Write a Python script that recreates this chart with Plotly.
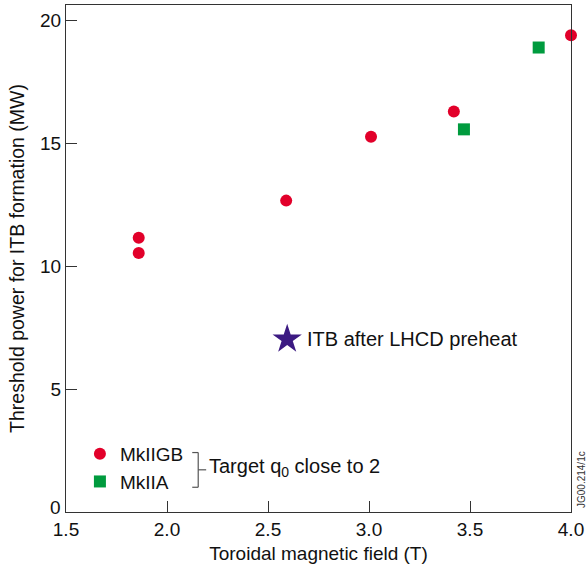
import plotly.graph_objects as go

# Data
mk2gb_x = [1.86, 1.86, 2.59, 3.01, 3.42, 4.0]
mk2gb_y = [11.16, 10.54, 12.67, 15.27, 16.30, 19.40]
mk2a_x = [3.47, 3.84]
mk2a_y = [15.57, 18.90]
lhcd_x = [2.595]
lhcd_y = [7.03]
xticks = [1.5, 2.0, 2.5, 3.0, 3.5, 4.0]
xtick_labels = ["1.5", "2.0", "2.5", "3.0", "3.5", "4.0"]
yticks = [0, 5, 10, 15, 20]
ytick_labels = ["0", "5", "10", "15", "20"]

FONT = "Liberation Sans, Arial, Helvetica, sans-serif"
RED = "#E2002A"
GREEN = "#009B3E"
PURPLE = "#3C1A82"

fig = go.Figure()
fig.add_trace(go.Scatter(
    x=mk2gb_x, y=mk2gb_y, mode="markers", name="MkIIGB",
    marker=dict(symbol="circle", size=12, color=RED),
    cliponaxis=False))
fig.add_trace(go.Scatter(
    x=mk2a_x, y=mk2a_y, mode="markers", name="MkIIA",
    marker=dict(symbol="square", size=12, color=GREEN),
    cliponaxis=False))
fig.add_trace(go.Scatter(
    x=lhcd_x, y=lhcd_y, mode="markers", name="ITB after LHCD preheat",
    marker=dict(symbol="star", size=22, color=PURPLE),
    showlegend=False, cliponaxis=False))

fig.add_annotation(x=lhcd_x[0], y=lhcd_y[0], xref="x", yref="y",
                   text="ITB after LHCD preheat", showarrow=False,
                   xanchor="left", yanchor="middle", xshift=18,
                   font=dict(family=FONT, size=20, color="#111"))

# bracket for the legend group
L, R_, T, B = 66, 574, 4, 512.3
W = R_ - L
H = B - T
def px(x):
    return (x - L) / W
def py(y):
    return (B - y) / H

bx0, bx1 = 193, 199
line = dict(color="#555", width=1.2)
fig.add_shape(type="line", xref="paper", yref="paper", x0=px(bx0), x1=px(bx1), y0=py(452.7), y1=py(452.7), line=line)
fig.add_shape(type="line", xref="paper", yref="paper", x0=px(bx1), x1=px(bx1), y0=py(452.7), y1=py(487.5), line=line)
fig.add_shape(type="line", xref="paper", yref="paper", x0=px(bx0), x1=px(bx1), y0=py(487.5), y1=py(487.5), line=line)
fig.add_shape(type="line", xref="paper", yref="paper", x0=px(bx1), x1=px(207), y0=py(470), y1=py(470), line=line)
fig.add_annotation(x=px(208), y=py(468), xref="paper", yref="paper",
                   text="Target q<sub>0</sub> close to 2", showarrow=False,
                   xanchor="left", yanchor="middle",
                   font=dict(family=FONT, size=20, color="#111"))

fig.add_annotation(x=1.0, y=0.0, xref="paper", yref="paper",
                   text="JG00.214/1c", showarrow=False, textangle=-90,
                   xanchor="left", yanchor="bottom", xshift=3, yshift=2,
                   font=dict(family=FONT, size=10, color="#333"))

# the "0" y-tick label sits slightly raised in the reference (clear of "1.5")
y_ticktext = [""] + ytick_labels[1:]
fig.add_annotation(x=0, y=yticks[0], xref="paper", yref="y",
                   text=ytick_labels[0], showarrow=False,
                   xanchor="right", yanchor="middle", xshift=-3, yshift=5,
                   font=dict(family=FONT, size=19, color="#111"))

axis_common = dict(showline=True, mirror=True, linecolor="#333", linewidth=1.2,
                   ticks="inside", ticklen=11, tickcolor="#333", tickwidth=1,
                   showgrid=False, zeroline=False,
                   tickfont=dict(family=FONT, size=19, color="#111"))

fig.update_layout(
    width=588, height=571,
    margin=dict(l=66, r=14, t=4, b=59),
    paper_bgcolor="white", plot_bgcolor="white",
    font=dict(family=FONT, color="#111"),
    showlegend=True,
    legend=dict(x=px(80), y=py(435), xanchor="left", yanchor="top",
                bgcolor="rgba(0,0,0,0)", traceorder="normal",
                itemwidth=30,
                font=dict(family=FONT, size=19, color="#111")),
    xaxis=dict(range=[1.5, 4.0], tickvals=xticks, ticktext=xtick_labels,
               title=dict(text="Toroidal magnetic field (T)", standoff=7,
                          font=dict(family=FONT, size=19, color="#111")),
               **axis_common),
    yaxis=dict(range=[0, 20.63], tickvals=yticks, ticktext=y_ticktext,
               title=dict(text="Threshold power for ITB formation (MW)", standoff=10,
                          font=dict(family=FONT, size=19.5, color="#111")),
               **axis_common),
)

fig.write_html("out.html")
